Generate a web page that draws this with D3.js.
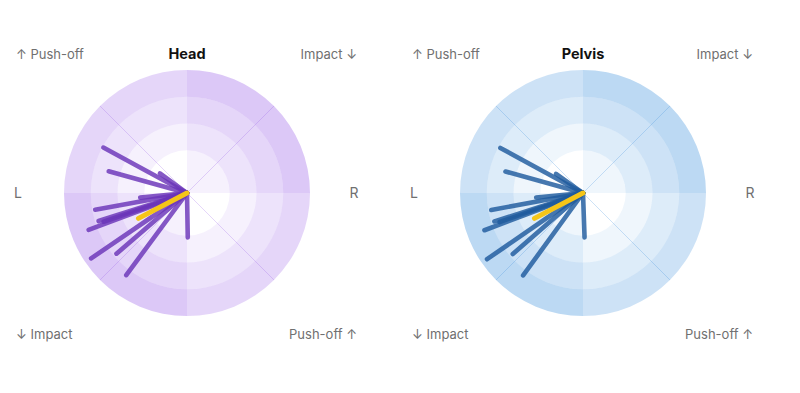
<!DOCTYPE html>
<html>
<head>
<meta charset="utf-8">
<script src="https://cdn.jsdelivr.net/npm/d3@7"></script>
<style>
  html, body { margin: 0; padding: 0; background: #fff; }
  svg { display: block; font-family: Inter, "Noto Sans", sans-serif; }
</style>
</head>
<body>
<svg id="chart" width="800" height="393"></svg>
<script>
// ---- data ----
const panels = ["Head", "Pelvis"];
const baseColors = ["#965ae6", "#378cdc"];
const strideColors = ["#6a35b8", "#1f5a9e"];
const meanColor = "#f5c518";
// stride directions (degrees clockwise from "up") and magnitudes (ring units 0-4)
const headAngles = [298.5, 285.5, 305.8, 259.7, 264.4, 252.4, 251.0, 249.5, 235.7, 229.3, 216.5, 179];
const headValues = [2.96, 2.44, 0.65, 2.89, 1.16, 2.87, 2.70, 3.33, 3.74, 2.88, 3.22, 1.06];
const pelvisAngles = [298.6, 285.5, 305.4, 259.5, 264.6, 252.2, 250.8, 249.3, 235.4, 229, 216, 178];
const pelvisValues = [2.92, 2.41, 0.64, 2.89, 1.16, 2.88, 2.70, 3.34, 3.76, 2.88, 3.21, 1.06];
const meanAngles = [242.4, 242.4];
const meanValues = [1.45, 1.45];
const quadrants = [0, 1, 2, 3];
const diagonals = [45, 135, 225, 315];
const cornerLabels = ["↑ Push-off", "Impact ↓", "↓ Impact", "Push-off ↑"];
const sideLabels = ["L", "R"];

const svg = d3.select("#chart");
const xPos = d3.scalePoint().domain(panels).range([187, 583]);
const cy = 193;
const r = d3.scaleLinear().domain([0, 4]).range([16, 123]);
const rad = d => d * Math.PI / 180;
const arc = d3.arc();

const panelData = [
  { angles: headAngles, values: headValues },
  { angles: pelvisAngles, values: pelvisValues }
];

panels.forEach((name, i) => {
  const cx = xPos(name);
  const g = svg.append("g").attr("transform", `translate(${cx},${cy})`);
  const base = baseColors[i];

  // ring sectors
  const cells = [];
  quadrants.forEach(q => {
    for (let k = 0; k < 4; k++) {
      cells.push({
        q, k,
        inner: k === 0 ? 0 : r(k),
        outer: r(k + 1),
        level: k + (q % 2 === 0 ? 1 : 0)
      });
    }
  });
  g.selectAll("path.cell").data(cells).join("path")
    .attr("class", "cell")
    .attr("d", d => arc({ innerRadius: d.inner, outerRadius: d.outer, startAngle: rad(d.q * 90), endAngle: rad(d.q * 90 + 90) }))
    .attr("fill", base)
    .attr("fill-opacity", d => d.level / 12)
    .attr("stroke", "none");

  // diagonal lines
  g.selectAll("line.diag").data(diagonals).join("line")
    .attr("class", "diag")
    .attr("x1", 0).attr("y1", 0)
    .attr("x2", d => r(4) * Math.sin(rad(d)))
    .attr("y2", d => -r(4) * Math.cos(rad(d)))
    .attr("stroke", base)
    .attr("stroke-opacity", 0.25)
    .attr("stroke-width", 1);

  // stride lines
  const pd = panelData[i];
  const strides = pd.angles.map((a, j) => ({ a, v: pd.values[j] }));
  g.selectAll("line.stride").data(strides).join("line")
    .attr("class", "stride")
    .attr("x1", 0).attr("y1", 0)
    .attr("x2", d => r(d.v) * Math.sin(rad(d.a)))
    .attr("y2", d => -r(d.v) * Math.cos(rad(d.a)))
    .attr("stroke", strideColors[i])
    .attr("stroke-opacity", 0.82)
    .attr("stroke-width", 4.6)
    .attr("stroke-linecap", "round");

  // mean line
  g.append("line")
    .attr("x1", 0).attr("y1", 0)
    .attr("x2", r(meanValues[i]) * Math.sin(rad(meanAngles[i])))
    .attr("y2", -r(meanValues[i]) * Math.cos(rad(meanAngles[i])))
    .attr("stroke", meanColor)
    .attr("stroke-width", 5)
    .attr("stroke-linecap", "round");

  // title
  svg.append("text")
    .attr("x", cx).attr("y", 59)
    .attr("text-anchor", "middle")
    .attr("font-size", 14.5).attr("font-weight", 700)
    .attr("fill", "#111")
    .text(name);

  // corner labels
  const corners = [
    { t: cornerLabels[0], x: cx - 171, y: 59, anchor: "start" },
    { t: cornerLabels[1], x: cx + 170, y: 59, anchor: "end" },
    { t: cornerLabels[2], x: cx - 171, y: 339, anchor: "start" },
    { t: cornerLabels[3], x: cx + 170, y: 339, anchor: "end" }
  ];
  svg.selectAll(null).data(corners).join("text")
    .attr("x", d => d.x).attr("y", d => d.y)
    .attr("text-anchor", d => d.anchor)
    .attr("font-size", 13).attr("fill", "#707070")
    .text(d => d.t);

  svg.selectAll(null).data(sideLabels).join("text")
    .attr("x", (d, j) => j === 0 ? cx - 169 : cx + 167)
    .attr("y", cy + 5)
    .attr("text-anchor", "middle")
    .attr("font-size", 14).attr("fill", "#707070")
    .text(d => d);
});
</script>
</body>
</html>
